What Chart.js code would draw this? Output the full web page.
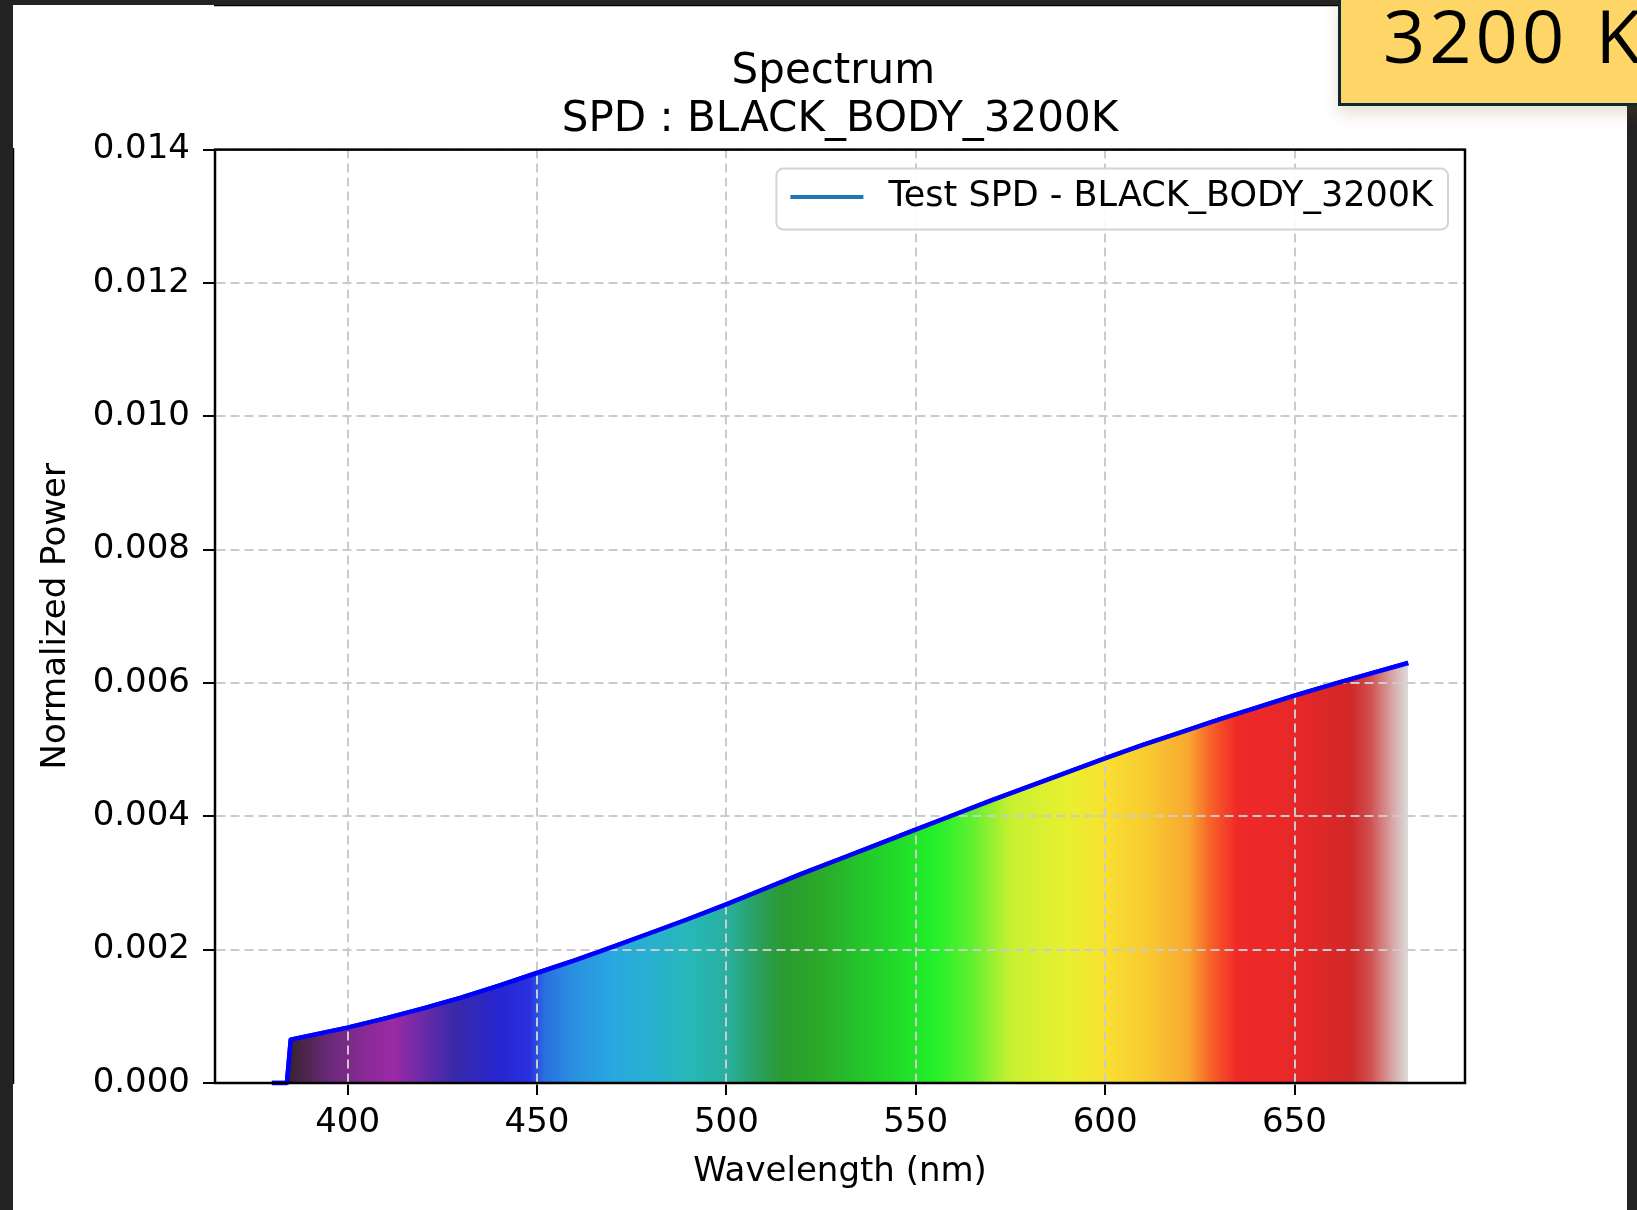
<!DOCTYPE html>
<html>
<head>
<meta charset="utf-8">
<script src="https://cdn.jsdelivr.net/npm/chart.js@4.4.1/dist/chart.umd.min.js"></script>
<style>
  html, body { margin: 0; padding: 0; background: #232323; }
  .page { position: absolute; left: 0; top: 0; width: 1637px; height: 1210px; background: #232323; overflow: hidden; }
  .panel { position: absolute; left: 13px; top: 5px; width: 1614px; height: 1205px; background: #fff; }
  .panel canvas { position: absolute; left: 0; top: 0; }
  .badge {
    position: absolute; left: 1338px; top: -6px; width: 330px; height: 112px;
    background: #fdd667; border-left: 3px solid #0f2836; border-bottom: 3px solid #0f2836;
    box-shadow: 0 8px 14px rgba(120, 90, 20, 0.18);
    font-family: "Open Sans", sans-serif; font-size: 74px; font-weight: 500; color: #000;
    letter-spacing: 4px; word-spacing: 4px; line-height: 1; padding-left: 42px; padding-top: 4px;
    box-sizing: border-box; white-space: nowrap;
  }
</style>
</head>
<body>
<div class="page">
  <div class="panel"><canvas id="spd" width="1614" height="1205"></canvas></div>
  <div class="badge">3200 K</div>
</div>
<script>
// Normalized spectral power of a 3200K black body
const wavelengths = [380, 384, 385, 390, 400, 410, 420, 430, 440, 450, 460, 470, 480, 490, 500,
  510, 520, 530, 540, 550, 560, 570, 580, 590, 600, 610, 620, 630, 640, 650, 660, 670, 680]
const power = [0, 0, 0.00065, 0.00071, 0.00083, 0.00097, 0.00112, 0.00128, 0.00146, 0.00165,
  0.00184, 0.00204, 0.00225, 0.00246, 0.00268, 0.00291, 0.00314, 0.00336, 0.00358, 0.00380,
  0.00402, 0.00424, 0.00445, 0.00466, 0.00487, 0.00507, 0.00526, 0.00545, 0.00563, 0.00581,
  0.00598, 0.00614, 0.00630]

const xTicks = [400, 450, 500, 550, 600, 650]
const yTicks = [0, 0.002, 0.004, 0.006, 0.008, 0.010, 0.012, 0.014]

const seriesLabel = "Test SPD - BLACK_BODY_3200K"
const titleLines = ["Spectrum ", "SPD : BLACK_BODY_3200K"]

// spectrum colour stops (wavelength -> colour) for the area under the curve
const bandWavelengths = [385, 395, 405, 412, 420, 428, 440, 448, 452, 460, 470, 480, 490, 500, 508,
  515, 525, 540, 555, 565, 575, 590, 600, 612, 622, 628, 635, 650, 665, 670, 676, 680]
const bandColors = ["#3b2233", "#6a2a78", "#8a2a98", "#9b2aa5", "#6a2aa8", "#3a2aa8", "#2626d0", "#2a30e0",
  "#2a70e0", "#2a90e0", "#28a8e0", "#28b0d0", "#28b8b8", "#28b0a0", "#2aa060",
  "#2a9a30", "#2aaa2a", "#22d02a", "#22f02a", "#60f030", "#c8f030", "#e8f030", "#f8e030", "#f8c830",
  "#f8a830", "#f86028", "#f02828", "#e82828", "#d02828", "#d05050", "#d8a8a8", "#dcdcdc"]

Chart.defaults.font.family = "'DejaVu Sans', sans-serif"
Chart.defaults.color = "#000"

const points = wavelengths.map((w, i) => ({ x: w, y: power[i] }))

function spectrumFill(chart) {
  const { ctx, chartArea, scales } = chart
  if (!chartArea) return "#888"
  const first = bandWavelengths[0]
  const last = bandWavelengths[bandWavelengths.length - 1]
  const g = ctx.createLinearGradient(scales.x.getPixelForValue(first), 0, scales.x.getPixelForValue(last), 0)
  bandWavelengths.forEach((w, i) => {
    g.addColorStop((w - first) / (last - first), bandColors[i])
  })
  return g
}

// matplotlib-style frame, legend box, and line redrawn above the grid
const framePlugin = {
  id: "frame",
  afterDraw(chart) {
    const { ctx, chartArea: a } = chart
    // keep the curve on top of the dashed grid
    chart.getDatasetMeta(1).controller.draw()

    ctx.save()
    ctx.strokeStyle = "#000"
    ctx.lineWidth = 2.5
    ctx.strokeRect(a.left, a.top, a.right - a.left, a.bottom - a.top)

    // legend
    ctx.font = "35px 'DejaVu Sans', sans-serif"
    const tw = ctx.measureText(seriesLabel).width
    const bw = tw + 127, bh = 61
    const bx = a.right - 17 - bw, by = a.top + 19
    ctx.beginPath()
    ctx.roundRect(bx, by, bw, bh, 7)
    ctx.fillStyle = "rgba(255,255,255,0.9)"
    ctx.fill()
    ctx.strokeStyle = "#d4d4d4"
    ctx.lineWidth = 2
    ctx.stroke()
    const cy = by + bh / 2 - 2
    ctx.beginPath()
    ctx.moveTo(bx + 14, cy)
    ctx.lineTo(bx + 87, cy)
    ctx.strokeStyle = "#1f77b4"
    ctx.lineWidth = 4
    ctx.stroke()
    ctx.fillStyle = "#000"
    ctx.textBaseline = "middle"
    ctx.textAlign = "left"
    ctx.fillText(seriesLabel, bx + 112, cy)
    ctx.restore()
  }
}

new Chart(document.getElementById("spd"), {
  type: "line",
  data: {
    datasets: [
      {
        label: "fill",
        data: points,
        borderWidth: 0,
        pointRadius: 0,
        fill: "origin",
        backgroundColor: (c) => spectrumFill(c.chart)
      },
      {
        label: seriesLabel,
        data: points,
        borderColor: "#0000ff",
        borderWidth: 4.5,
        borderJoinStyle: "round",
        pointRadius: 0,
        fill: false
      }
    ]
  },
  options: {
    responsive: false,
    animation: false,
    layout: { padding: { left: 0, right: 162, top: 0, bottom: 0 } },
    plugins: {
      legend: { display: false },
      tooltip: { enabled: false },
      title: {
        display: true,
        text: titleLines,
        fullSize: false,
        font: { size: 42, weight: "normal", lineHeight: 1.15 },
        padding: { top: 43, bottom: 5 },
        color: "#000"
      }
    },
    scales: {
      x: {
        type: "linear",
        min: 365,
        max: 695,
        afterBuildTicks: (scale) => { scale.ticks = xTicks.map(v => ({ value: v })) },
        afterFit: (scale) => { scale.height = 127 },
        ticks: { font: { size: 34 }, padding: 8, color: "#000", maxRotation: 0 },
        grid: { z: 1, color: "#cbcbcb", lineWidth: 2, tickColor: "#000", tickWidth: 2, tickLength: 12 },
        border: { color: "#000", width: 2.5, dash: [9, 5] },
        title: { display: true, text: "Wavelength (nm)", font: { size: 34 }, padding: { bottom: 17 }, color: "#000" }
      },
      y: {
        min: 0,
        max: 0.014,
        afterBuildTicks: (scale) => { scale.ticks = yTicks.map(v => ({ value: v })) },
        afterFit: (scale) => { scale.width = 202 },
        ticks: { font: { size: 34 }, padding: 13, color: "#000", callback: (v) => v.toFixed(3) },
        grid: { z: 1, color: "#cbcbcb", lineWidth: 2, tickColor: "#000", tickWidth: 2, tickLength: 12 },
        border: { color: "#000", width: 2.5, dash: [9, 5] },
        title: { display: true, text: "Normalized Power", font: { size: 34 }, padding: { top: 23 }, color: "#000" }
      }
    }
  },
  plugins: [framePlugin]
})
</script>
</body>
</html>
